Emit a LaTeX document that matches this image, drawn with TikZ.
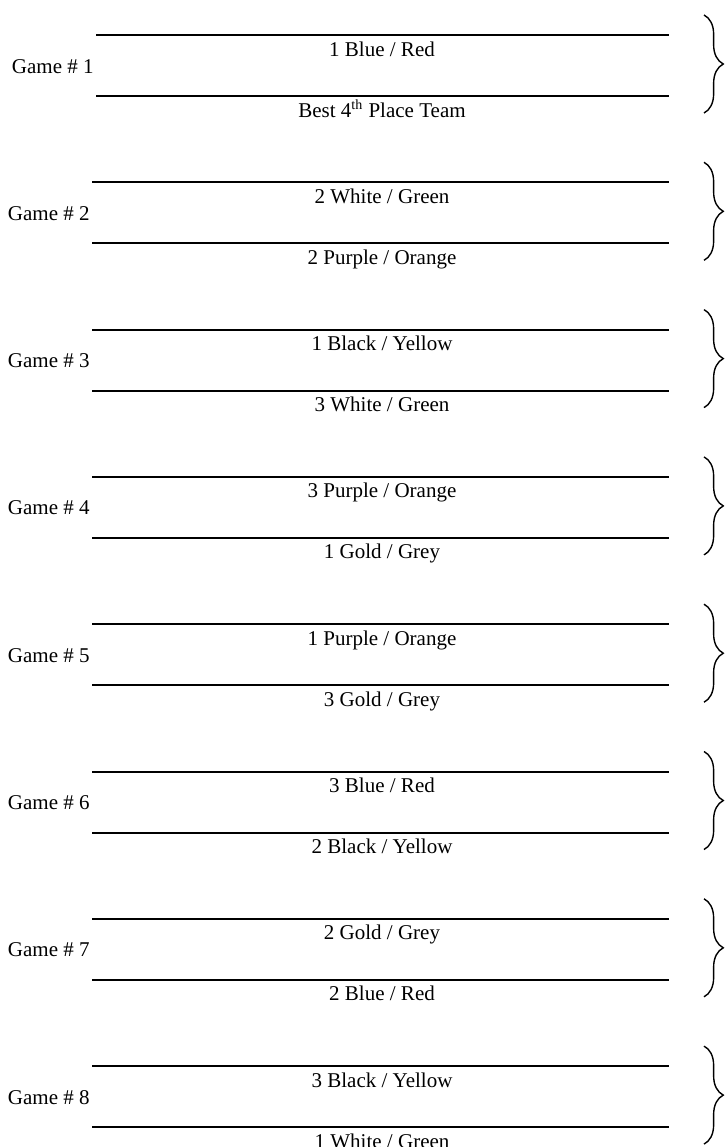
\documentclass[tikz,border=0pt]{standalone}
\usepackage{fontspec}
\setmainfont{Liberation Serif}
\usepackage{tikz}
\tikzset{x=.571pt,y=-.571pt}
\usetikzlibrary{decorations.pathreplacing}

\begin{document}
\begin{tikzpicture}[every node/.style={font=\fontsize{12}{14}\selectfont, inner sep=0pt},
    slot/.style={line width=1.15pt},
    pairbrace/.style={line width=.8pt, decorate, decoration={brace, amplitude=11pt}}]
\useasboundingbox (0,0) rectangle (725,1147);
\foreach \g/\xs/\home/\away in {
    1/96/{1 Blue / Red}/{Best 4\textsuperscript{th} Place Team},
    2/92/{2 White / Green}/{2 Purple / Orange},
    3/92/{1 Black / Yellow}/{3 White / Green},
    4/92/{3 Purple / Orange}/{1 Gold / Grey},
    5/92/{1 Purple / Orange}/{3 Gold / Grey},
    6/92/{3 Blue / Red}/{2 Black / Yellow},
    7/92/{2 Gold / Grey}/{2 Blue / Red},
    8/92/{3 Black / Yellow}/{1 White / Green}}{
  \pgfmathsetmacro{\yt}{35+(\g-1)*147.3}
  \pgfmathsetmacro{\yb}{\yt+61}
  % the two slots
  \coordinate (top\g w) at (\xs,\yt);
  \coordinate (top\g e) at (669,\yt);
  \coordinate (bot\g w) at (\xs,\yb);
  \coordinate (bot\g e) at (669,\yb);
  \draw[slot] (top\g w) -- (top\g e);
  \draw[slot] (bot\g w) -- (bot\g e);
  \node[anchor=base] (home\g) at (382,\yt+21) {\home};
  \node[anchor=base] (away\g) at (382,\yb+21) {\away};
  % game label
  \node[anchor=base east] (game\g) at (\xs-2,\yt+38) {Game \# \g};
  % brace on the right
  \coordinate (brace\g n) at (704,\yt-20);
  \coordinate (brace\g s) at (704,\yb+17);
  \draw[pairbrace] (brace\g n) -- (brace\g s);
}
\end{tikzpicture}
\end{document}
